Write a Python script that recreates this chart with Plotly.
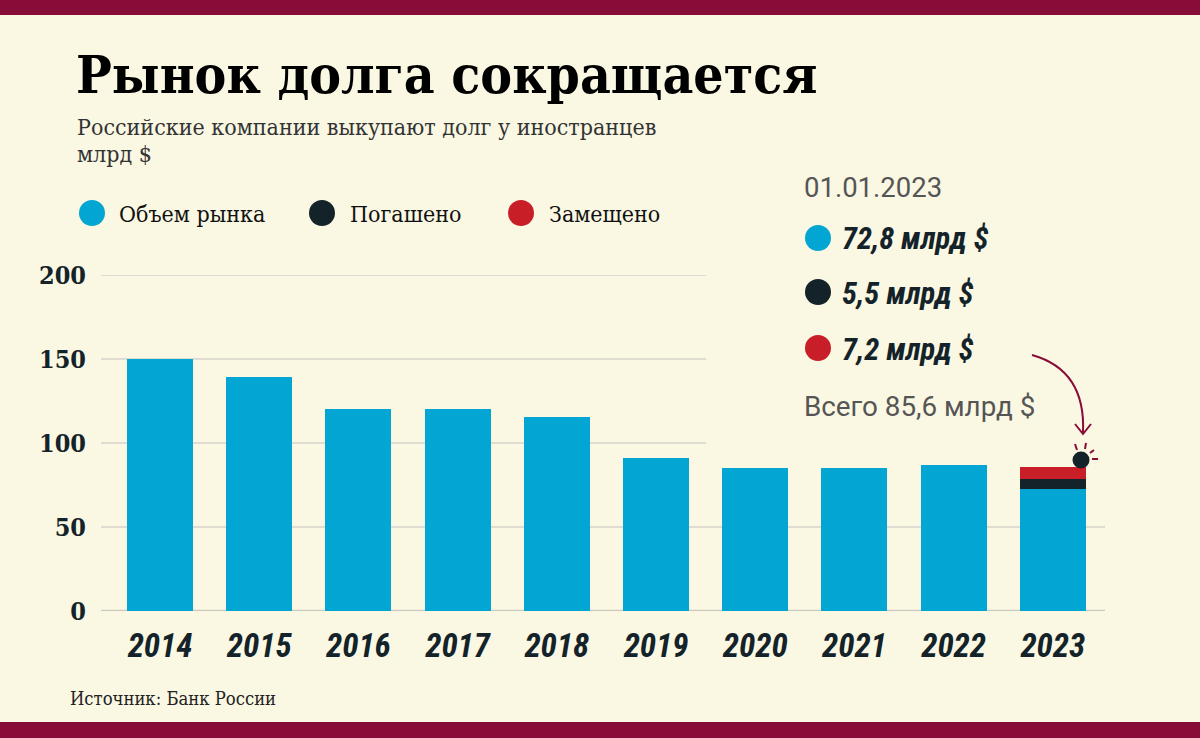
import plotly.graph_objects as go

# ---------------- data ----------------
years = ["2014", "2015", "2016", "2017", "2018", "2019", "2020", "2021", "2022", "2023"]
market = [150, 139, 120, 120, 115.5, 91, 85, 85, 87, 72.8]      # Объем рынка
repaid = [None, None, None, None, None, None, None, None, None, 5.5]  # Погашено
replaced = [None, None, None, None, None, None, None, None, None, 7.2]  # Замещено
y_ticks = [0, 50, 100, 150, 200]

# ---------------- style ----------------
W, H = 1200, 738
BG = "#faf8e3"
BLUE = "#03a6d2"
DARK = "#14232a"
RED = "#c81e28"
MAROON = "#870c37"
GRID = "#d6d5cc"
SERIF = "DejaVu Serif Condensed, DejaVu Serif, Liberation Serif, serif"
COND = "Roboto Condensed, Liberation Sans Narrow, Roboto, sans-serif"

L, R, T, B = 101, 95, 275, 127
PW, PH = W - L - R, H - T - B


def px(x):
    return (x - L) / PW


def py(y):
    return (H - B - y) / PH


fig = go.Figure()
fig.add_bar(x=years, y=market, name="Объем рынка", marker_color=BLUE,
            marker_line_width=0)
fig.add_bar(x=years, y=repaid, name="Погашено", marker_color=DARK,
            marker_line_width=0)
fig.add_bar(x=years, y=replaced, name="Замещено", marker_color=RED,
            marker_line_width=0)

shapes = []
# gridlines (upper ones stop before the annotation block)
for v in y_ticks:
    if v == 0:
        shapes.append(dict(type="line", xref="paper", yref="y", x0=0, x1=1, y0=v, y1=v,
                           line=dict(color="#c9c8bf", width=2.5), layer="below"))
    elif v == 50:
        shapes.append(dict(type="line", xref="paper", yref="y", x0=0, x1=1, y0=v, y1=v,
                           line=dict(color=GRID, width=1.5), layer="below"))
    else:
        shapes.append(dict(type="line", xref="paper", yref="y", x0=0, x1=px(706), y0=v, y1=v,
                           line=dict(color=GRID, width=1.5), layer="below"))

# top / bottom bands
shapes.append(dict(type="rect", xref="paper", yref="paper", x0=px(0), x1=px(W),
                   y0=py(15), y1=py(0), fillcolor=MAROON, line_width=0, layer="above"))
shapes.append(dict(type="rect", xref="paper", yref="paper", x0=px(0), x1=px(W),
                   y0=py(H), y1=py(722), fillcolor=MAROON, line_width=0, layer="above"))


def circle(cx, cy, r, color):
    return dict(type="circle", xref="paper", yref="paper",
                x0=px(cx - r), x1=px(cx + r), y0=py(cy + r), y1=py(cy - r),
                fillcolor=color, line_width=0, layer="above")


# legend circles
for cx, col in [(92, BLUE), (322, DARK), (521, RED)]:
    shapes.append(circle(cx, 213, 13, col))
# right panel circles
for cy, col in [(238, BLUE), (292, DARK), (348, RED)]:
    shapes.append(circle(818, cy, 13, col))

# curved arrow
path = "M {},{} Q {},{} {},{}".format(px(1032), py(355), px(1086), py(370), px(1083), py(433))
shapes.append(dict(type="path", xref="paper", yref="paper", path=path,
                   line=dict(color=MAROON, width=2), layer="above"))
head = "M {},{} L {},{} L {},{}".format(px(1075), py(424), px(1083), py(434), px(1091), py(424))
shapes.append(dict(type="path", xref="paper", yref="paper", path=head,
                   line=dict(color=MAROON, width=2), layer="above"))
# highlight dot with rays
shapes.append(circle(1081, 460, 8.5, DARK))
for (x0, y0, x1, y1) in [(1075, 444, 1077, 450), (1086, 443, 1085, 449),
                         (1090, 453, 1094, 450), (1092, 459, 1098, 459)]:
    shapes.append(dict(type="line", xref="paper", yref="paper",
                       x0=px(x0), y0=py(y0), x1=px(x1), y1=py(y1),
                       line=dict(color=MAROON, width=2), layer="above"))

annotations = []


def text(t, x, y, size, color, family, weight="normal", style="normal",
         xanchor="left", yanchor="middle"):
    annotations.append(dict(text=t, x=px(x), y=py(y), xref="paper", yref="paper",
                            xanchor=xanchor, yanchor=yanchor, showarrow=False,
                            font=dict(size=size, color=color, family=family,
                                      weight=weight, style=style)))


text("Рынок долга сокращается", 74, 74, 53, "#000000", SERIF, weight="bold")
text("Российские компании выкупают долг у иностранцев", 75, 127, 23, "#333333", SERIF)
text("млрд $", 75, 154, 23, "#333333", SERIF)
text("Объем рынка", 117, 214, 23, "#111111", SERIF)
text("Погашено", 348, 214, 23, "#111111", SERIF)
text("Замещено", 547, 214, 23, "#111111", SERIF)
text("01.01.2023", 802, 187, 27.5, "#555555", "Roboto")
text("72,8 млрд $", 840, 239, 30.5, DARK, COND, weight="bold", style="italic")
text("5,5 млрд $", 840, 293, 30.5, DARK, COND, weight="bold", style="italic")
text("7,2 млрд $", 840, 349, 30.5, DARK, COND, weight="bold", style="italic")
text("Всего 85,6 млрд $", 802, 406, 27.8, "#555555", "Roboto")
text("Источник: Банк России", 68, 698, 18.3, "#222222", SERIF)

fig.update_layout(
    width=W, height=H,
    margin=dict(l=L, r=R, t=T, b=B),
    paper_bgcolor=BG, plot_bgcolor=BG,
    barmode="stack", bargap=0.335,
    showlegend=False,
    shapes=shapes, annotations=annotations,
    xaxis=dict(type="category", range=[-0.595, 9.526], showgrid=False, zeroline=False,
               showline=False, ticks="", ticklabelstandoff=12,
               tickfont=dict(family=COND, size=33, color=DARK, weight="bold", style="italic")),
    yaxis=dict(range=[0, 200], tickvals=y_ticks, showgrid=False, zeroline=False,
               showline=False, ticks="", ticklabelstandoff=14,
               tickfont=dict(family=SERIF, size=25, color=DARK, weight="bold")),
)

fig.write_html("out.html")
